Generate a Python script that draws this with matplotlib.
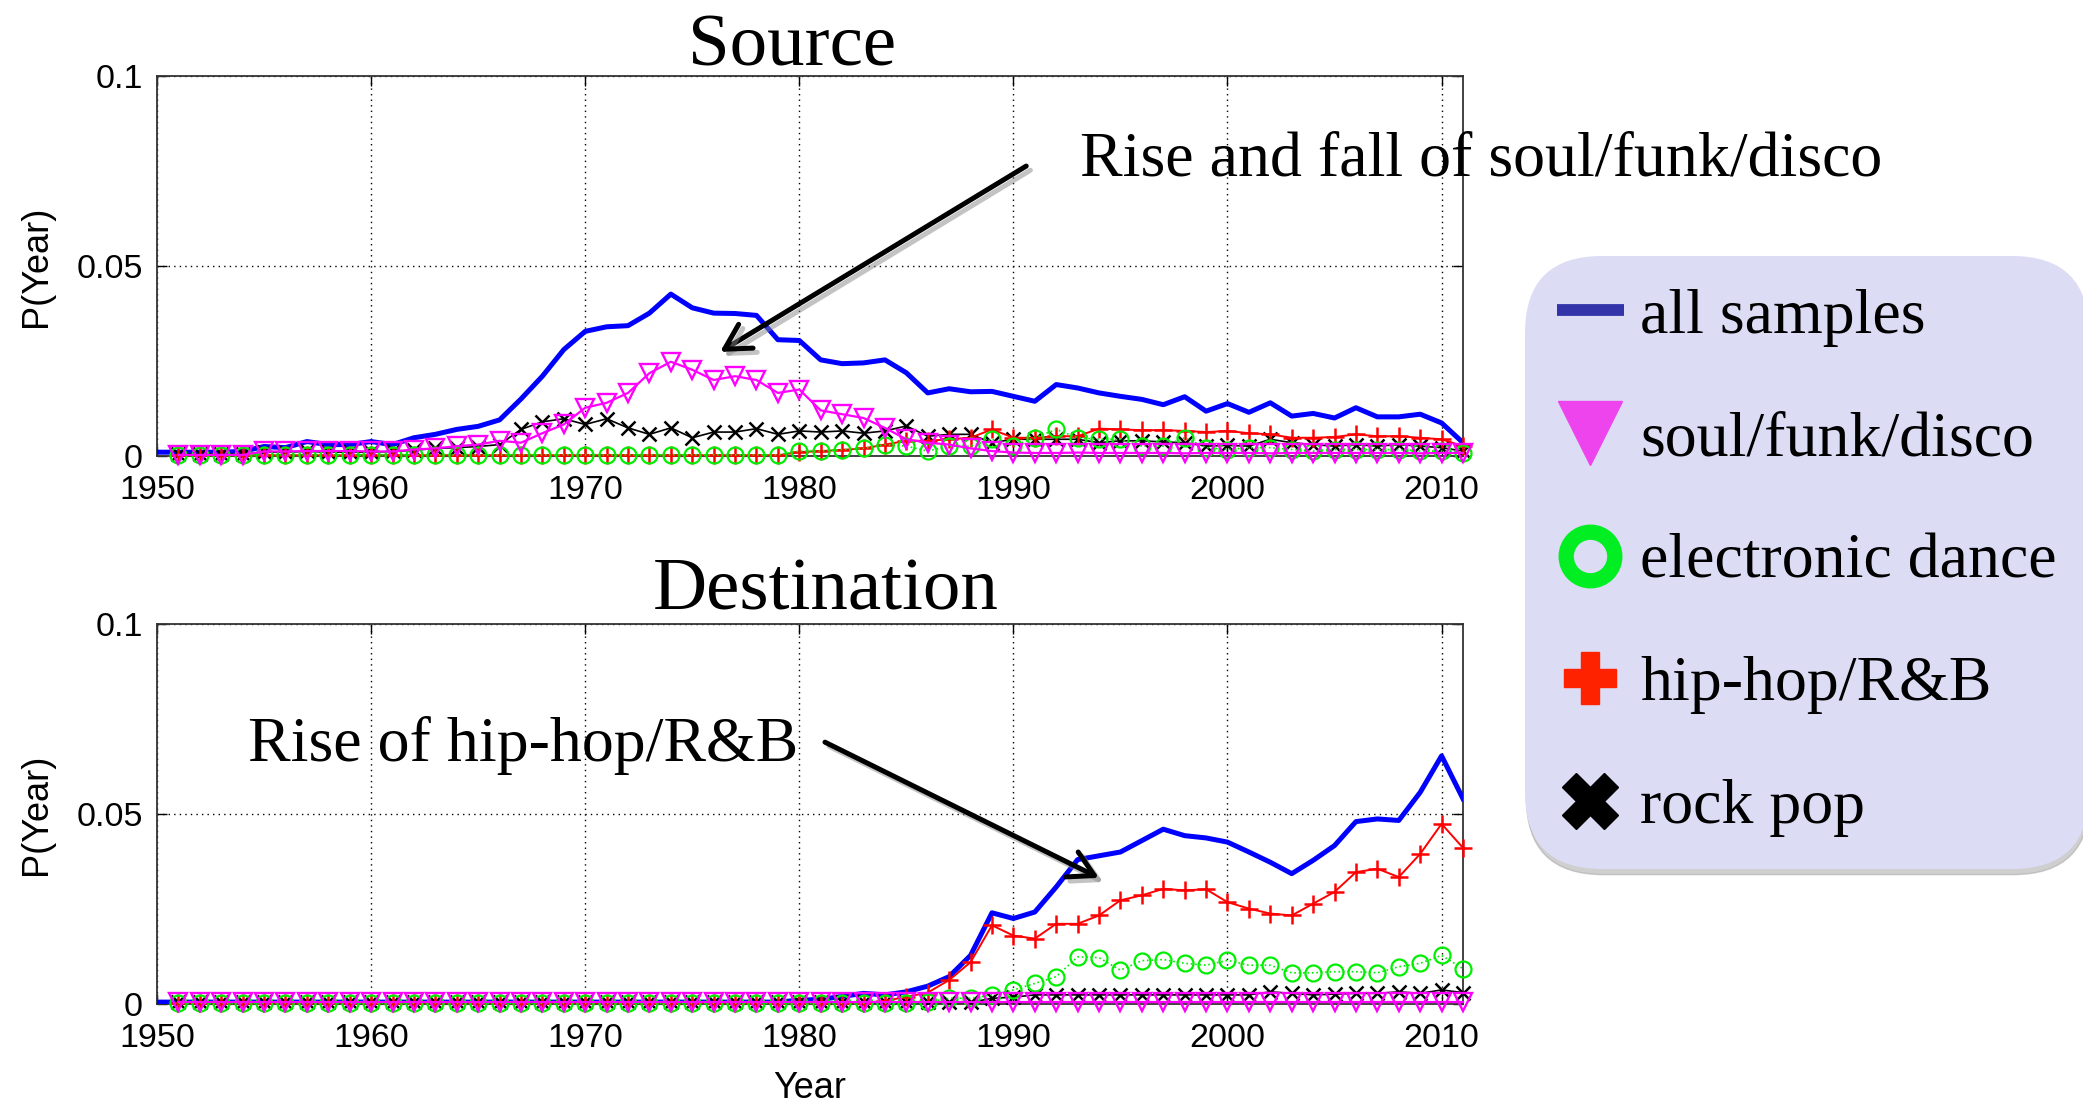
import numpy as np
import matplotlib
matplotlib.use('Agg')
import matplotlib.pyplot as plt
import matplotlib.patheffects as pe
from matplotlib.lines import Line2D

plt.rcParams['font.family'] = ['Liberation Sans', 'DejaVu Sans']

# years: the "all samples" curve starts at 1950, genre curves at 1951
years_all = np.arange(1950, 2012)
years = np.arange(1951, 2012)

labels = ['all samples', 'soul/funk/disco', 'electronic dance', 'hip-hop/R&B', 'rock pop']

# ---- Source panel ----
src_all = [0.0010, 0.0010, 0.0010, 0.0010, 0.0012, 0.0025, 0.0022, 0.0038, 0.0030, 0.0030,
           0.0038, 0.0030, 0.0048, 0.0057, 0.0070, 0.0078, 0.0095, 0.0150, 0.0210, 0.0280,
           0.0328, 0.0340, 0.0343, 0.0376, 0.0426, 0.0390, 0.0376, 0.0375, 0.0370, 0.0306,
           0.0304, 0.0253, 0.0243, 0.0245, 0.0253, 0.0219, 0.0166, 0.0177, 0.0169, 0.0170,
           0.0157, 0.0144, 0.0188, 0.0179, 0.0166, 0.0157, 0.0149, 0.0135, 0.0156, 0.0118,
           0.0138, 0.0115, 0.0140, 0.0105, 0.0112, 0.0100, 0.0127, 0.0103, 0.0103, 0.0110,
           0.0087, 0.0035]
src_soul = [0.0003, 0.0003, 0.0003, 0.0003, 0.0012, 0.0012, 0.0013, 0.0013, 0.0013, 0.0012,
            0.0012, 0.0017, 0.0020, 0.0026, 0.0030, 0.0040, 0.0035, 0.0060, 0.0083, 0.0127,
            0.0140, 0.0166, 0.0218, 0.0248, 0.0227, 0.0200, 0.0210, 0.0200, 0.0166, 0.0175,
            0.0120, 0.0110, 0.0100, 0.0074, 0.0044, 0.0035, 0.0030, 0.0020, 0.0013, 0.0009,
            0.0008, 0.0008, 0.0009, 0.0008, 0.0008, 0.0008, 0.0008, 0.0007, 0.0008, 0.0008,
            0.0008, 0.0007, 0.0008, 0.0008, 0.0008, 0.0008, 0.0008, 0.0008, 0.0007, 0.0008,
            0.0008]
src_elec = [0.0003, 0.0003, 0.0003, 0.0003, 0.0003, 0.0003, 0.0003, 0.0003, 0.0003, 0.0003,
            0.0003, 0.0003, 0.0003, 0.0003, 0.0003, 0.0003, 0.0003, 0.0003, 0.0003, 0.0003,
            0.0003, 0.0003, 0.0003, 0.0003, 0.0003, 0.0003, 0.0003, 0.0003, 0.0003, 0.0013,
            0.0013, 0.0017, 0.0020, 0.0030, 0.0026, 0.0013, 0.0026, 0.0026, 0.0044, 0.0026,
            0.0048, 0.0070, 0.0048, 0.0044, 0.0044, 0.0026, 0.0026, 0.0048, 0.0022, 0.0017,
            0.0022, 0.0022, 0.0017, 0.0013, 0.0017, 0.0017, 0.0017, 0.0017, 0.0013, 0.0013,
            0.0009]
src_hiphop = [0.0002, 0.0002, 0.0002, 0.0002, 0.0002, 0.0002, 0.0002, 0.0002, 0.0002, 0.0002,
              0.0002, 0.0002, 0.0002, 0.0002, 0.0002, 0.0002, 0.0002, 0.0002, 0.0002, 0.0002,
              0.0002, 0.0002, 0.0002, 0.0002, 0.0002, 0.0002, 0.0002, 0.0002, 0.0002, 0.0010,
              0.0013, 0.0016, 0.0020, 0.0030, 0.0040, 0.0040, 0.0044, 0.0048, 0.0070, 0.0048,
              0.0048, 0.0052, 0.0052, 0.0072, 0.0070, 0.0068, 0.0068, 0.0066, 0.0063, 0.0066,
              0.0060, 0.0057, 0.0048, 0.0048, 0.0050, 0.0057, 0.0052, 0.0052, 0.0048, 0.0044,
              0.0026]
src_rock = [0.0005, 0.0005, 0.0005, 0.0005, 0.0010, 0.0010, 0.0012, 0.0010, 0.0010, 0.0010,
            0.0012, 0.0015, 0.0020, 0.0022, 0.0025, 0.0030, 0.0070, 0.0090, 0.0098, 0.0083,
            0.0098, 0.0074, 0.0057, 0.0074, 0.0048, 0.0063, 0.0063, 0.0072, 0.0057, 0.0066,
            0.0063, 0.0066, 0.0060, 0.0066, 0.0079, 0.0052, 0.0057, 0.0057, 0.0035, 0.0044,
            0.0044, 0.0044, 0.0044, 0.0035, 0.0040, 0.0040, 0.0037, 0.0035, 0.0026, 0.0028,
            0.0026, 0.0044, 0.0035, 0.0030, 0.0026, 0.0030, 0.0026, 0.0030, 0.0026, 0.0022,
            0.0013]

# ---- Destination panel ----
dst_all = [0.0005, 0.0005, 0.0005, 0.0005, 0.0005, 0.0005, 0.0005, 0.0005, 0.0005, 0.0005,
           0.0005, 0.0005, 0.0005, 0.0005, 0.0005, 0.0005, 0.0005, 0.0005, 0.0005, 0.0005,
           0.0005, 0.0005, 0.0005, 0.0005, 0.0005, 0.0005, 0.0005, 0.0005, 0.0005, 0.0005,
           0.0010, 0.0012, 0.0020, 0.0028, 0.0024, 0.0032, 0.0047, 0.0072, 0.0128, 0.0240,
           0.0225, 0.0242, 0.0308, 0.0380, 0.0390, 0.0400, 0.0430, 0.0460, 0.0443, 0.0437,
           0.0426, 0.0400, 0.0373, 0.0343, 0.0378, 0.0417, 0.0480, 0.0487, 0.0483, 0.0557,
           0.0653, 0.0540]
dst_soul = [0.0006, 0.0006, 0.0006, 0.0006, 0.0006, 0.0006, 0.0006, 0.0006, 0.0006, 0.0006,
            0.0006, 0.0006, 0.0006, 0.0006, 0.0006, 0.0006, 0.0006, 0.0006, 0.0006, 0.0006,
            0.0006, 0.0006, 0.0006, 0.0006, 0.0006, 0.0006, 0.0006, 0.0006, 0.0006, 0.0006,
            0.0006, 0.0006, 0.0006, 0.0006, 0.0006, 0.0006, 0.0006, 0.0006, 0.0006, 0.0006,
            0.0006, 0.0006, 0.0006, 0.0006, 0.0006, 0.0006, 0.0006, 0.0006, 0.0006, 0.0006,
            0.0006, 0.0006, 0.0006, 0.0006, 0.0006, 0.0006, 0.0006, 0.0006, 0.0006, 0.0006,
            0.0006]
dst_elec = [0.0002, 0.0002, 0.0002, 0.0002, 0.0002, 0.0002, 0.0002, 0.0002, 0.0002, 0.0002,
            0.0002, 0.0002, 0.0002, 0.0002, 0.0002, 0.0002, 0.0002, 0.0002, 0.0002, 0.0002,
            0.0002, 0.0002, 0.0002, 0.0002, 0.0002, 0.0002, 0.0002, 0.0002, 0.0002, 0.0002,
            0.0002, 0.0002, 0.0002, 0.0002, 0.0002, 0.0005, 0.0015, 0.0015, 0.0024, 0.0037,
            0.0054, 0.0072, 0.0124, 0.0122, 0.0089, 0.0114, 0.0117, 0.0107, 0.0102, 0.0115,
            0.0102, 0.0102, 0.0082, 0.0082, 0.0085, 0.0085, 0.0082, 0.0098, 0.0107, 0.0128,
            0.0093]
dst_hiphop = [0.0003, 0.0003, 0.0003, 0.0003, 0.0003, 0.0003, 0.0003, 0.0003, 0.0003, 0.0003,
              0.0003, 0.0003, 0.0003, 0.0003, 0.0003, 0.0003, 0.0003, 0.0003, 0.0003, 0.0003,
              0.0003, 0.0003, 0.0003, 0.0003, 0.0003, 0.0003, 0.0003, 0.0003, 0.0003, 0.0003,
              0.0003, 0.0003, 0.0003, 0.0008, 0.0019, 0.0030, 0.0063, 0.0110, 0.0207, 0.0180,
              0.0172, 0.0211, 0.0211, 0.0233, 0.0273, 0.0286, 0.0303, 0.0299, 0.0302, 0.0268,
              0.0251, 0.0238, 0.0233, 0.0264, 0.0295, 0.0347, 0.0356, 0.0334, 0.0395, 0.0474,
              0.0411]
dst_rock = [0.0004, 0.0004, 0.0004, 0.0004, 0.0004, 0.0004, 0.0004, 0.0004, 0.0004, 0.0004,
            0.0004, 0.0004, 0.0004, 0.0004, 0.0004, 0.0004, 0.0004, 0.0004, 0.0004, 0.0004,
            0.0004, 0.0004, 0.0004, 0.0004, 0.0004, 0.0004, 0.0004, 0.0004, 0.0004, 0.0004,
            0.0004, 0.0004, 0.0004, 0.0004, 0.0004, 0.0004, 0.0004, 0.0004, 0.0015, 0.0018,
            0.0024, 0.0024, 0.0024, 0.0024, 0.0024, 0.0024, 0.0024, 0.0024, 0.0024, 0.0024,
            0.0024, 0.0032, 0.0028, 0.0024, 0.0026, 0.0028, 0.0028, 0.0032, 0.0028, 0.0037,
            0.0030]

W, H = 2083, 1107
SERIF = ['Liberation Serif', 'DejaVu Serif']


def style_axes(ax):
    ax.set_xlim(1950, 2011)
    ax.set_ylim(0, 0.1)
    ax.set_xticks(range(1950, 2011, 10))
    ax.set_yticks([0, 0.05, 0.1])
    ax.set_yticklabels(['0', '0.05', '0.1'])
    ax.set_axisbelow(True)
    ax.grid(True, linestyle=(0, (1, 3)), color='k', linewidth=1.0)
    ax.tick_params(direction='in', length=7, width=1, top=True, right=True,
                   labelsize=24.5, pad=10)
    ax.tick_params(axis='x', pad=14)
    for s in ax.spines.values():
        s.set_linewidth(1.3)
        s.set_color('#333333')
    ax.set_ylabel('P(Year)', fontsize=26, labelpad=16)


def draw_panel(ax, all_v, soul, elec, hiphop, rock):
    ax.plot(years_all, all_v, color='#0000ff', lw=3.6, zorder=3)
    ax.plot(years, rock, color='k', marker='x', ms=10, mew=1.8, lw=1.2,
            clip_on=False, zorder=4)
    ax.plot(years, hiphop, color='#ff0000', marker='+', ms=13, mew=1.8, lw=1.4,
            clip_on=False, zorder=5)
    ax.plot(years, elec, color='#00ee00', marker='o', mfc='none', ms=11.5, mew=1.6,
            lw=1.2, ls=':', clip_on=False, zorder=5)
    ax.plot(years, soul, color='#ff00ff', marker='v', mfc='none', ms=13, mew=1.7,
            lw=1.6, clip_on=False, zorder=6)
    style_axes(ax)


fig = plt.figure(figsize=(W / 100, H / 100), dpi=100)
ax_src = fig.add_axes([157 / W, 1 - 456 / H, (1463 - 157) / W, (456 - 76) / H])
ax_dst = fig.add_axes([157 / W, 1 - 1004 / H, (1463 - 157) / W, (1004 - 624) / H])

draw_panel(ax_src, src_all, src_soul, src_elec, src_hiphop, src_rock)
draw_panel(ax_dst, dst_all, dst_soul, dst_elec, dst_hiphop, dst_rock)
ax_dst.set_xlabel('Year', fontsize=26, labelpad=12)

# panel titles and annotations
fig.text(792 / W, 1 - 65 / H, 'Source', family=SERIF, fontsize=54,
         ha='center', va='baseline')
fig.text(826 / W, 1 - 610 / H, 'Destination', family=SERIF, fontsize=54,
         ha='center', va='baseline')
fig.text(1080 / W, 1 - 175 / H, 'Rise and fall of soul/funk/disco', family=SERIF,
         fontsize=46, ha='left', va='baseline')
fig.text(248 / W, 1 - 761 / H, 'Rise of hip-hop/R&B', family=SERIF,
         fontsize=46, ha='left', va='baseline')

arrow_fx = [pe.SimpleLineShadow(offset=(3, -3), shadow_color='#888888', alpha=0.5),
            pe.Normal()]
arrow_kw = dict(arrowstyle='->,head_length=0.45,head_width=0.25', lw=3.6, color='k',
                shrinkA=0, shrinkB=0, mutation_scale=40, path_effects=arrow_fx)
ax_src.annotate('', xy=(1976.3, 0.0274), xytext=(1990.6, 0.0763),
                arrowprops=arrow_kw, annotation_clip=False)
ax_dst.annotate('', xy=(1994.0, 0.0332), xytext=(1981.2, 0.0689),
                arrowprops=arrow_kw, annotation_clip=False)

# legend with big symbols, as in the slide
handles = [
    Line2D([], [], color='#3333aa', lw=8.5, solid_capstyle='butt'),
    Line2D([], [], ls='none', marker='v', ms=46, color='#ee44ee'),
    Line2D([], [], ls='none', marker='o', ms=35, mfc='none', mec='#00ee22', mew=11),
    Line2D([], [], ls='none', marker='P', ms=38, color='#ff2200'),
    Line2D([], [], ls='none', marker='X', ms=40, color='k'),
]
leg = fig.legend(handles, labels, loc='upper left', bbox_to_anchor=(1525 / W, 1 - 256 / H),
                 borderaxespad=0, prop=dict(family=SERIF, size=46), numpoints=1,
                 frameon=True, fancybox=True, facecolor='#dcdcf5', edgecolor='none',
                 framealpha=1, borderpad=0.5, labelspacing=1.0, handlelength=1.05,
                 handletextpad=0.25,
                 shadow={'ox': 1, 'oy': -4, 'color': '#a0a0a0', 'alpha': 0.5})
leg.get_frame().set_boxstyle('round', pad=0, rounding_size=1.2)

fig.savefig('out.png', dpi=100)
